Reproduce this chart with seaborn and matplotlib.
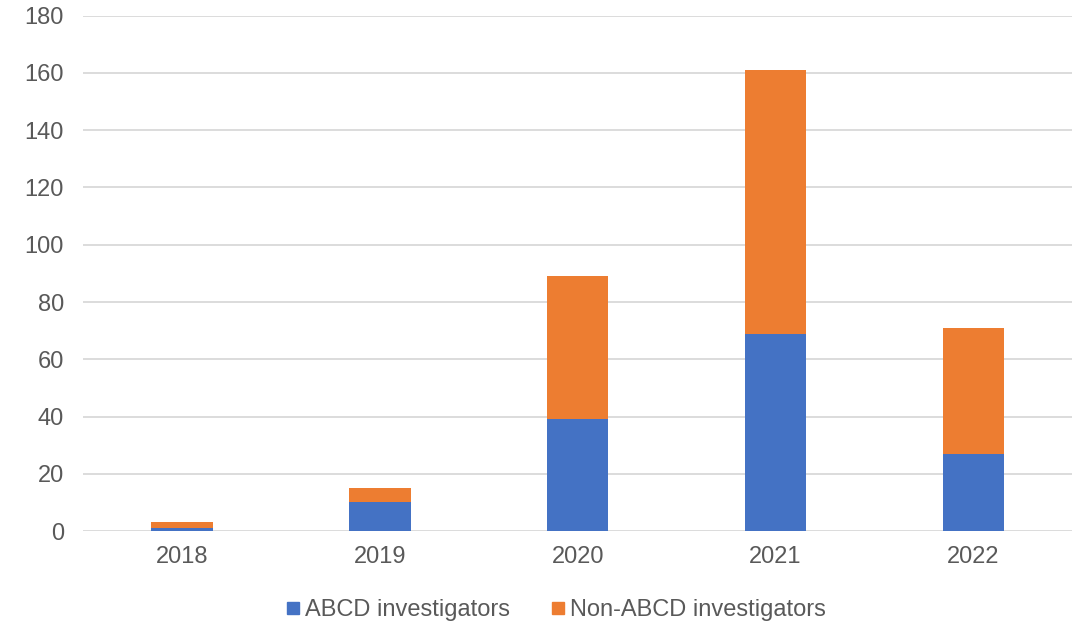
import matplotlib
matplotlib.use("Agg")
import matplotlib.pyplot as plt
from matplotlib.lines import Line2D
import seaborn as sns
import pandas as pd

anos = ["2018", "2019", "2020", "2021", "2022"]
abcd = [1, 10, 39, 69, 27]
nao_abcd = [2, 5, 50, 92, 44]
rotulos_y = [0, 20, 40, 60, 80, 100, 120, 140, 160, 180]

cor_azul = "#4472C4"
cor_laranja = "#ED7D31"
cor_texto = "#595959"

sns.set_theme(style="white")
plt.rcParams["font.family"] = ["Liberation Sans", "DejaVu Sans"]

df = pd.DataFrame({"Ano": anos, "ABCD": abcd, "NaoABCD": nao_abcd})
df["Total"] = df["ABCD"] + df["NaoABCD"]

fig = plt.figure(figsize=(10.81, 6.27), dpi=100)
ax = fig.add_axes([0.077, 0.153, 0.915, 0.822])

sns.barplot(data=df, x="Ano", y="Total", color=cor_laranja, width=0.31,
            saturation=1, linewidth=0, ax=ax, zorder=3)
sns.barplot(data=df, x="Ano", y="ABCD", color=cor_azul, width=0.31,
            saturation=1, linewidth=0, ax=ax, zorder=4)

ax.set_ylim(0, 180)
ax.set_xlim(-0.5, 4.5)
ax.set_yticks(rotulos_y)
ax.yaxis.grid(True, color="#d9d9d9", linewidth=1.3, zorder=0)
ax.set_axisbelow(True)
for lado in ax.spines.values():
    lado.set_visible(False)
ax.tick_params(axis="both", length=0, labelsize=17, colors=cor_texto)
ax.tick_params(axis="y", pad=14)
ax.tick_params(axis="x", pad=11)
ax.set_xlabel("")
ax.set_ylabel("")

handles = [
    Line2D([], [], marker="s", linestyle="", markersize=8.5, color=cor_azul),
    Line2D([], [], marker="s", linestyle="", markersize=8.5, color=cor_laranja),
]
fig.legend(handles, ["ABCD investigators", "Non-ABCD investigators"],
           loc="center", bbox_to_anchor=(0.515, 0.027), ncol=2, frameon=False,
           fontsize=17, handlelength=0.5, handletextpad=0.25, columnspacing=1.8,
           labelcolor=cor_texto)

fig.savefig("out.png", dpi=100)
plt.close(fig)
